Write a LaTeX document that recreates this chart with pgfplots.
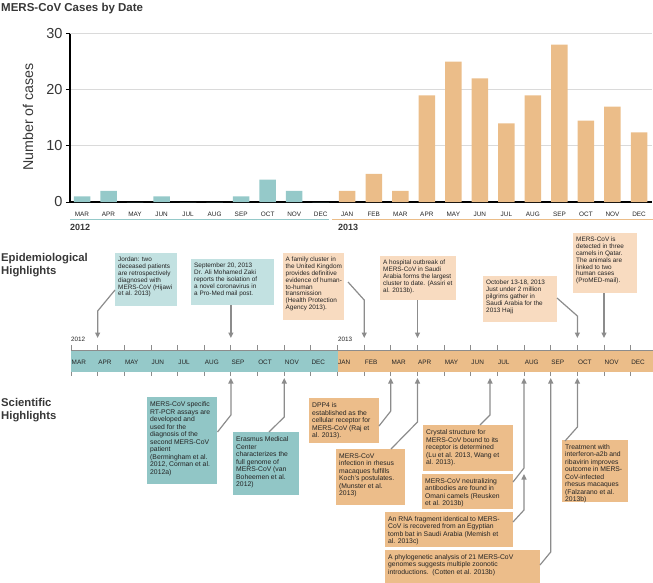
\documentclass[border=0pt]{standalone}
\usepackage{fontspec}
\setmainfont{Liberation Sans}
\usepackage{pgfplots}
\pgfplotsset{compat=1.18}
\usetikzlibrary{arrows.meta}
\definecolor{bteal}{RGB}{149,201,201}
\definecolor{borange}{RGB}{235,189,137}
\definecolor{eteal}{RGB}{194,225,225}
\definecolor{eorange}{RGB}{248,219,192}
\definecolor{steal}{RGB}{145,198,198}
\definecolor{sorange}{RGB}{236,189,138}
\definecolor{arr}{RGB}{140,140,140}
\definecolor{gridc}{RGB}{218,218,218}
\definecolor{txt}{RGB}{35,35,35}
\definecolor{ttl}{RGB}{55,55,55}
\newcommand{\epif}{\fontsize{6.4}{6.8}\selectfont}
\newcommand{\scif}{\fontsize{6.8}{7.5}\selectfont}
\tikzset{
  ar/.style={draw=arr, line width=1.2pt, -{Triangle[length=5.5pt,width=5pt]}},
  bt/.style={anchor=north west, inner sep=0pt, align=left, text=txt},
}
\begin{document}
\begin{tikzpicture}
\useasboundingbox (0pt,0pt) rectangle (653pt,-582pt);
\begin{axis}[at={(70pt,-202pt)}, anchor=south west, width=582pt, height=168.5pt, scale only axis,
 xmin=-0.4525, xmax=21.49, ymin=0, ymax=30,
 axis x line*=bottom, axis y line*=left,
 axis line style={black, line width=1.4pt},
 ytick={0,10,20,30}, ymajorgrids, major grid style={gridc, line width=0.9pt},
 xtick={0,...,21},
 xticklabels={MAR,APR,MAY,JUN,JUL,AUG,SEP,OCT,NOV,DEC,JAN,FEB,MAR,APR,MAY,JUN,JUL,AUG,SEP,OCT,NOV,DEC},
 xtick style={draw=none},
 ytick style={black, line width=1pt}, tick align=outside, major tick length=4pt,
 xticklabel style={font=\fontsize{6.4}{7}\selectfont, text=txt, yshift=-2.5pt},
 yticklabel style={font=\fontsize{14.5}{16}\selectfont, text=ttl},
 /pgf/number format/assume math mode=true,
 ybar, bar width=16.5pt,
 clip=false,
]
\addplot[fill=bteal, draw=none, bar shift=0pt] coordinates {(0,1) (1,2) (2,0) (3,1) (4,0) (5,0) (6,1) (7,4) (8,2) (9,0)};
\addplot[fill=borange, draw=none, bar shift=0pt] coordinates {(10,2) (11,5) (12,2) (13,19) (14,25) (15,22) (16,14) (17,19) (18,28) (19,14.5) (20,17) (21,12.4)};
\end{axis}
\begin{scope}[x=1pt,y=-1pt]
% titles
\node[anchor=base west, inner sep=0, font=\bfseries\fontsize{11.5}{13}\selectfont, text=ttl] at (1,11) {MERS-CoV Cases by Date};
\node[rotate=90, inner sep=0, font=\fontsize{14.2}{16}\selectfont, text=ttl] at (28,117) {Number of cases};
\draw[bteal, line width=1.5pt] (70,219.5) -- (329,219.5);
\draw[borange, line width=1.5pt] (332,219.5) -- (653,219.5);
\node[anchor=base west, inner sep=0, font=\bfseries\fontsize{9}{10}\selectfont, text=ttl] at (70,230.5) {2012};
\node[anchor=base west, inner sep=0, font=\bfseries\fontsize{9}{10}\selectfont, text=ttl] at (338,230.5) {2013};
\node[anchor=base west, inner sep=0, font=\bfseries\fontsize{11.3}{13}\selectfont, text=ttl] at (1,261) {Epidemiological};
\node[anchor=base west, inner sep=0, font=\bfseries\fontsize{11.3}{13}\selectfont, text=ttl] at (1,274.5) {Highlights};
\node[anchor=base west, inner sep=0, font=\bfseries\fontsize{11.3}{13}\selectfont, text=ttl] at (1,406.5) {Scientific};
\node[anchor=base west, inner sep=0, font=\bfseries\fontsize{11.3}{13}\selectfont, text=ttl] at (1,419.5) {Highlights};
% timeline
\fill[bteal] (71,350.5) rectangle (337.5,372);
\fill[borange] (337.5,350.5) rectangle (653,372);
\draw[arr, line width=1pt] (71,350.5) -- (653,350.5);
\foreach \i in {0,...,21} {
  \draw[arr, line width=0.9pt] ({71+26.65*\i},345) -- ({71+26.65*\i},350.5);
  \draw[arr, line width=0.9pt] ({71+26.65*\i},372) -- ({71+26.65*\i},376);
}
\foreach \m [count=\i from 0] in {MAR,APR,MAY,JUN,JUL,AUG,SEP,OCT,NOV,DEC,JAN,FEB,MAR,APR,MAY,JUN,JUL,AUG,SEP,OCT,NOV,DEC} {
  \node[anchor=west, inner sep=0, font=\fontsize{6.4}{7}\selectfont, text=txt] at ({71.5+26.65*\i},362) {\m};
}
\node[anchor=base west, inner sep=0, font=\fontsize{6.3}{7}\selectfont, text=txt] at (71,341) {2012};
\node[anchor=base west, inner sep=0, font=\fontsize{6.3}{7}\selectfont, text=txt] at (338,341) {2013};
% epidemiological boxes
\fill[eteal] (115,253) rectangle (177,306);
\node[bt, font=\epif] at (118,257) {Jordan: two\\deceased patients\\are retrospectively\\diagnosed with\\MERS-CoV (Hijawi\\et al. 2013)};
\draw[ar] (115,290) -- (97.65,311) -- (97.65,338);
\fill[eteal] (191,259) rectangle (274,305);
\node[bt, font=\epif] at (194,263) {September 20, 2013\\Dr. Ali Mohamed Zaki\\reports the isolation of\\a novel coronavirus in\\a Pro-Med mail post.};
\draw[ar] (230.9,305) -- (230.9,338);
\fill[eorange] (283,253) rectangle (344,320);
\node[bt, font=\epif] at (285.5,257) {A family cluster in\\the United Kingdom\\provides definitive\\evidence of human-\\to-human\\transmission\\(Health Protection\\Agency 2013).};
\draw[ar] (348,282) -- (364.2,300) -- (364.2,338);
\fill[eorange] (380,256) rectangle (456,300);
\node[bt, font=\epif] at (383,260) {A hospital outbreak of\\MERS-CoV in Saudi\\Arabia forms the largest\\cluster to date. (Assiri et\\al. 2013b).};
\draw[ar] (417.5,300) -- (417.5,338);
\fill[eorange] (483,276) rectangle (557,322);
\node[bt, font=\epif] at (486,280) {October 13-18, 2013\\Just under 2 million\\pilgrims gather in\\Saudi Arabia for the\\2013 Hajj};
\draw[ar] (557,298) -- (577.4,316) -- (577.4,338);
\fill[eorange] (573,233) rectangle (637,293);
\node[bt, font=\epif] at (576,237) {MERS-CoV is\\detected in three\\camels in Qatar.\\The animals are\\linked to two\\human cases\\(ProMED-mail).};
\draw[ar] (604,293) -- (604,338);
% scientific boxes
\fill[steal] (147,397) rectangle (217,484);
\node[bt, font=\scif] at (150,401.5) {MERS-CoV specific\\RT-PCR assays are\\developed and\\used for the\\diagnosis of the\\second MERS-CoV\\patient\\(Bermingham et al.\\2012, Corman et al.\\2012a)};
\draw[ar] (217.5,432) -- (230.9,415) -- (230.9,378);
\fill[steal] (233,432) rectangle (299,495);
\node[bt, font=\scif] at (236,436.5) {Erasmus Medical\\Center\\characterizes the\\full genome of\\MERS-CoV (van\\Boheemen et al.\\2012)};
\draw[ar] (269,432) -- (284.2,417) -- (284.2,378);
\fill[sorange] (309,398) rectangle (379,443);
\node[bt, font=\scif] at (312,402.5) {DPP4 is\\established as the\\cellular receptor for\\MERS-CoV (Raj et\\al. 2013).};
\draw[ar] (379,426) -- (390.8,411) -- (390.8,378);
\fill[sorange] (336,449) rectangle (405,505);
\node[bt, font=\scif] at (339,453.5) {MERS-CoV\\infection in rhesus\\macaques fulfills\\Koch's postulates.\\(Munster et al.\\2013)};
\draw[ar] (391,449) -- (417.5,422) -- (417.5,378);
\fill[sorange] (423,425) rectangle (513,471);
\node[bt, font=\scif] at (426,429.5) {Crystal structure for\\MERS-CoV bound to its\\receptor is determined\\(Lu et al. 2013, Wang et\\al. 2013).};
\draw[ar] (480,425) -- (490,415) -- (490,378);
\fill[sorange] (422,474) rectangle (513,509);
\node[bt, font=\scif] at (425,478) {MERS-CoV neutralizing\\antibodies are found in\\Omani camels (Reusken\\et al. 2013b)};
\draw[ar] (513,482) -- (524,468) -- (524,378);
\fill[sorange] (385,512) rectangle (513,547);
\node[bt, font=\scif] at (388,516) {An RNA fragment identical to MERS-\\CoV is recovered from an Egyptian\\tomb bat in Saudi Arabia (Memish et\\al. 2013c)};
\draw[ar] (513,522) -- (524,510) -- (524,474);
\fill[sorange] (385,550) rectangle (540,590);
\node[bt, font=\scif] at (388,554) {A phylogenetic analysis of 21 MERS-CoV\\genomes suggests multiple zoonotic\\introductions.\ \ (Cotten et al. 2013b)};
\draw[ar] (540,565) -- (550.7,552) -- (550.7,378);
\fill[sorange] (562,440) rectangle (628,502);
\node[bt, font=\scif] at (565,444) {Treatment with\\interferon-a2b and\\ribavirin improves\\outcome in MERS-\\CoV-infected\\rhesus macaques\\(Falzarano et al.\\2013b)};
\draw[ar] (565,441) -- (577.4,427) -- (577.4,378);
\end{scope}
\end{tikzpicture}
\end{document}
